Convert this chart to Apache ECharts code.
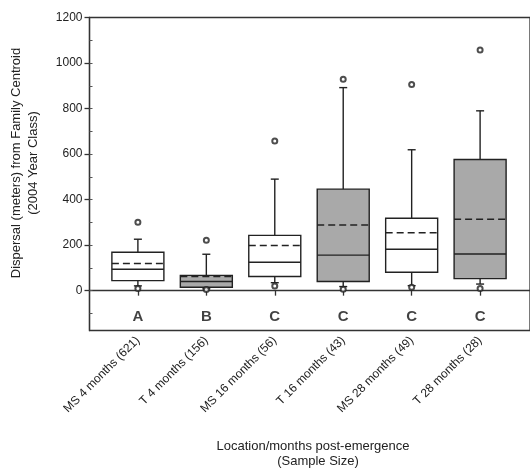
<!DOCTYPE html>
<html>
<head>
<meta charset="utf-8">
<script src="https://cdn.jsdelivr.net/npm/echarts@6/dist/echarts.min.js"></script>
<style>
  html, body { margin: 0; padding: 0; background: #fff; }
  #grafico { width: 530px; height: 470px; }
</style>
</head>
<body>
<div id="grafico"></div>
<script>
// datos
var categorias = ['MS 4 months (621)', 'T 4 months (156)', 'MS 16 months (56)',
                  'T 16 months (43)', 'MS 28 months (49)', 'T 28 months (28)'];
var bigote_inf = [21, 8, 35, 18, 22, 29];
var q1 = [44, 15, 62, 40, 81, 53];
var mediana = [94, 40, 125, 156, 182, 161];
var q3 = [169, 67, 243, 446, 318, 576];
var bigote_sup = [226, 160, 490, 892, 619, 790];
var media = [119, 62, 198, 289, 254, 314];
var relleno = ['#fff', '#a9a9a9', '#fff', '#a9a9a9', '#fff', '#a9a9a9'];
var atipicos = [
    [1, 300], [1, 9],
    [2, 221], [2, 5],
    [3, 657], [3, 21],
    [4, 929], [4, 6],
    [5, 906], [5, 15],
    [6, 1057], [6, 9]
];
var letras = ['A', 'B', 'C', 'C', 'C', 'C'];
var y_letras = -114;
var ticks_y = [0, 200, 400, 600, 800, 1000, 1200];
var ticks_menores = [-100, 0, 100, 200, 300, 400, 500, 600, 700, 800, 900, 1000, 1100];

var color_linea = '#222';
var fuente = 'Liberation Sans, Arial, sans-serif';

var datos_cajas = categorias.map(function(c, i) {
    return [i + 1, bigote_inf[i], q1[i], mediana[i], q3[i], bigote_sup[i], media[i]];
});
var datos_letras = letras.map(function(l, i) {
    return { value: [i + 1, y_letras], name: l };
});

/** CAJA: bigotes, caja, mediana y media (discontinua) */
function dibujar_caja(params, api) {
    var i = params.dataIndex;
    var x = api.value(0);
    var p_inf = api.coord([x, api.value(1)]);
    var p_q1 = api.coord([x, api.value(2)]);
    var p_med = api.coord([x, api.value(3)]);
    var p_q3 = api.coord([x, api.value(4)]);
    var p_sup = api.coord([x, api.value(5)]);
    var p_media = api.coord([x, api.value(6)]);
    var cx = p_q1[0];
    var ancho = 52;
    var tapa = 4;
    var estilo = { stroke: color_linea, lineWidth: 1.4, fill: null };
    return {
        type: 'group',
        children: [
            { type: 'line', shape: { x1: cx, y1: p_q3[1], x2: cx, y2: p_sup[1] }, style: estilo },
            { type: 'line', shape: { x1: cx - tapa, y1: p_sup[1], x2: cx + tapa, y2: p_sup[1] }, style: estilo },
            { type: 'line', shape: { x1: cx, y1: p_q1[1], x2: cx, y2: p_inf[1] }, style: estilo },
            { type: 'line', shape: { x1: cx - tapa, y1: p_inf[1], x2: cx + tapa, y2: p_inf[1] }, style: estilo },
            { type: 'rect', shape: { x: cx - ancho / 2, y: p_q3[1], width: ancho, height: p_q1[1] - p_q3[1] },
              style: { stroke: color_linea, lineWidth: 1.4, fill: relleno[i] } },
            { type: 'line', shape: { x1: cx - ancho / 2, y1: p_med[1], x2: cx + ancho / 2, y2: p_med[1] }, style: estilo },
            { type: 'line', shape: { x1: cx - ancho / 2, y1: p_media[1], x2: cx + ancho / 2, y2: p_media[1] },
              style: { stroke: color_linea, lineWidth: 1.5, lineDash: [7, 4] } }
        ]
    };
}

var grafico = echarts.init(document.getElementById('grafico'));
var option = {
    animation: false,
    textStyle: { fontFamily: fuente },
    grid: {
        left: 89.5, top: 17.5, bottom: 139.5, right: -10,
        show: true, borderColor: '#333', borderWidth: 1.3, backgroundColor: 'transparent'
    },
    xAxis: {
        type: 'value',
        min: 0.293,
        max: 6.729,
        splitLine: { show: false },
        axisLine: { show: true, lineStyle: { color: '#333', width: 1.3 } },
        axisTick: { show: true, customValues: [1, 2, 3, 4, 5, 6], length: 5, lineStyle: { color: '#333', width: 1.3 } },
        axisLabel: {
            customValues: [1, 2, 3, 4, 5, 6],
            rotate: 45,
            margin: 8,
            fontSize: 12,
            color: '#222',
            fontFamily: fuente,
            formatter: function(v) { return categorias[Math.round(v) - 1]; }
        }
    },
    yAxis: [
        {
            type: 'value',
            min: -175,
            max: 1200,
            splitLine: { show: false },
            axisLine: { show: true, lineStyle: { color: '#333', width: 1.3 } },
            axisTick: { show: true, customValues: ticks_y, length: 5, lineStyle: { color: '#333', width: 1.3 } },
            axisLabel: {
                customValues: ticks_y, margin: 7, fontSize: 12, color: '#222', fontFamily: fuente,
                formatter: function(v) { return String(v); }
            }
        },
        {
            type: 'value',
            min: -175,
            max: 1200,
            position: 'left',
            splitLine: { show: false },
            axisLine: { show: false },
            axisTick: { show: true, inside: true, customValues: ticks_menores, length: 3, lineStyle: { color: '#555', width: 1 } },
            axisLabel: { show: false }
        }
    ],
    graphic: [
        {
            type: 'text', x: 16, y: 163, rotation: Math.PI / 2,
            style: { text: 'Dispersal (meters) from Family Centroid', fontSize: 13, fill: '#222',
                     fontFamily: fuente, align: 'center', verticalAlign: 'middle' }
        },
        {
            type: 'text', x: 33, y: 163, rotation: Math.PI / 2,
            style: { text: '(2004 Year Class)', fontSize: 13, fill: '#222',
                     fontFamily: fuente, align: 'center', verticalAlign: 'middle' }
        },
        {
            type: 'text', x: 313, y: 446,
            style: { text: 'Location/months post-emergence', fontSize: 13, fill: '#222',
                     fontFamily: fuente, align: 'center', verticalAlign: 'middle' }
        },
        {
            type: 'text', x: 318, y: 461,
            style: { text: '(Sample Size)', fontSize: 13, fill: '#222',
                     fontFamily: fuente, align: 'center', verticalAlign: 'middle' }
        }
    ],
    series: [
        {
            type: 'custom',
            renderItem: dibujar_caja,
            encode: { x: 0, y: [1, 2, 3, 4, 5, 6] },
            data: datos_cajas,
            z: 2
        },
        {
            type: 'scatter',
            symbol: 'emptyCircle',
            symbolSize: 5,
            itemStyle: { color: color_linea, borderColor: color_linea, borderWidth: 1.2 },
            data: atipicos,
            z: 3
        },
        {
            type: 'scatter',
            symbolSize: 0,
            label: {
                show: true,
                position: 'inside',
                formatter: '{b}',
                fontSize: 15,
                fontWeight: 'bold',
                color: '#111',
                fontFamily: fuente
            },
            data: datos_letras
        }
    ]
};
grafico.setOption(option);
</script>
</body>
</html>
